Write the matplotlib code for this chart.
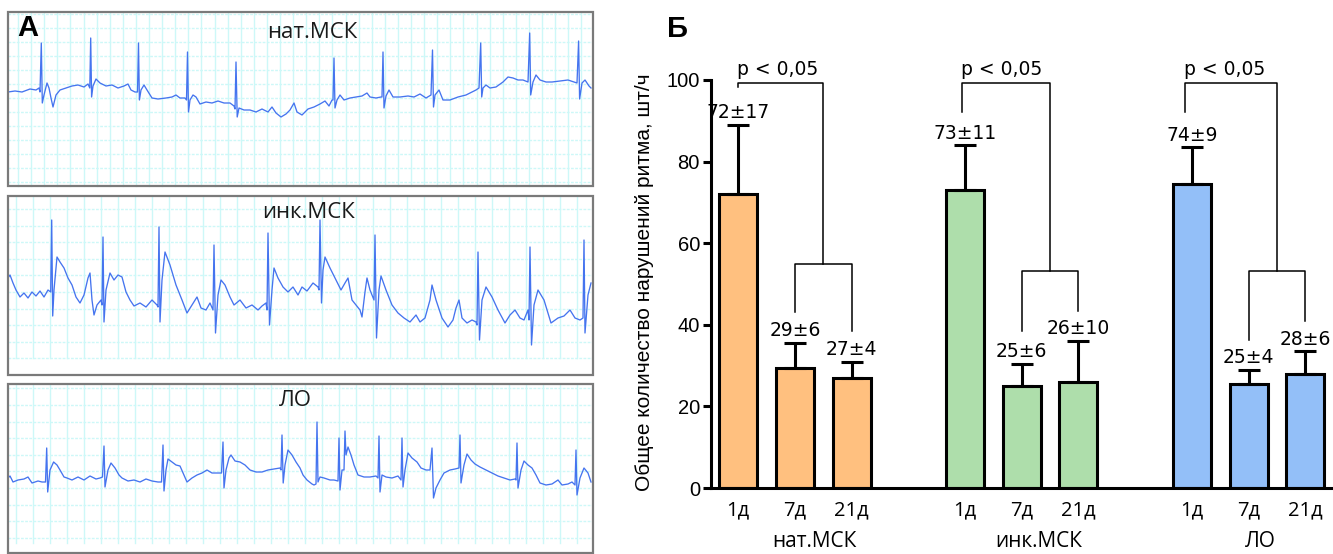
import numpy as np
import matplotlib
matplotlib.use('Agg')
import matplotlib.pyplot as plt
from matplotlib.patches import Rectangle

# ---- панель А: записи ЭКГ (координаты в пикселях рисунка) ----
ecg_titles = ['нат.МСК', 'инк.МСК', 'ЛО']

ecg1_x = [8, 15, 22, 30, 36, 39, 40, 41.3, 42.3, 44, 47, 49, 51, 53, 56, 60, 66, 72, 78, 84, 88, 89.8, 90.7, 91.6,
          93, 96, 100, 106, 112, 118, 124, 128, 131, 135, 137.5, 138.5, 139.4, 141, 144, 147, 152, 158, 166, 172,
          176, 180, 185, 186.5, 187.5, 188.5, 190, 193, 196, 200, 206, 212, 218, 224, 230, 234, 235, 236, 237.2,
          239, 244, 250, 256, 262, 268, 272, 276, 281, 286, 290, 294, 297, 302, 308, 314, 320, 325, 329, 332, 333,
          334, 335, 337, 340, 344, 350, 356, 362, 367, 370, 376, 381, 382, 383, 384, 386, 389, 393, 400, 408, 414,
          420, 426, 431, 432.5, 433.5, 435, 439, 443, 450, 458, 466, 472, 476, 479, 480.7, 481.7, 483, 486, 490,
          496, 503, 508, 513, 518, 523, 528, 529.7, 530.7, 533, 536, 540, 546, 552, 560, 568, 574, 577, 578.6,
          579.6, 582, 585, 589, 591]
ecg1_y = [92, 91, 92, 89, 90, 88, 92, 43, 103, 95, 83, 88, 98, 107, 95, 90, 88, 86, 85, 87, 84, 88, 38, 97,
          86, 79, 83, 86, 85, 88, 86, 84, 90, 92, 92, 43, 100, 90, 85, 90, 98, 99, 98, 97,
          95, 98, 98, 100, 52, 112, 100, 95, 97, 104, 102, 103, 101, 103, 103, 106, 109, 62, 117,
          108, 110, 110, 112, 109, 112, 107, 113, 117, 114, 110, 103, 112, 115, 109, 107, 104, 101, 106, 100, 100,
          58, 108, 100, 95, 100, 98, 97, 96, 93, 97, 98, 97, 97, 52, 108, 96, 90, 97, 97, 96, 97,
          94, 98, 95, 50, 107, 95, 90, 100, 100, 97, 95, 92, 90, 88, 43, 97, 88, 85, 88,
          87, 82, 77, 78, 80, 80, 82, 33, 95, 82, 75, 80, 82, 82, 81, 80, 82, 83, 41,
          99, 83, 80, 86, 88]

ecg2_x = [8, 10, 13, 16, 20, 24, 28, 32, 36, 40, 44, 48, 50.7, 51.7, 52.7, 54, 57, 60, 64, 68, 72, 76, 80, 84,
          88, 90, 92, 94, 97, 101, 102, 103, 104, 106, 110, 114, 118, 122, 126, 130, 134, 140, 146, 152, 157,
          158, 159, 160, 162, 165, 170, 176, 182, 187, 192, 197, 201, 206, 210, 213, 214, 215.5, 218, 221, 225,
          230, 234, 240, 246, 252, 258, 262, 266, 267, 268, 269.5, 272, 274, 278, 283, 288, 293, 298, 302, 307,
          313, 318, 319, 320, 321.5, 323, 325, 330, 336, 341, 345, 348, 352, 356, 360, 362, 365, 367, 370, 374,
          375, 376.5, 379, 381, 386, 392, 398, 404, 410, 416, 420, 425, 430, 432, 436, 442, 448, 453, 456, 459,
          462, 467, 472, 476, 477, 478, 479.5, 482, 486, 492, 498, 505, 510, 515, 520, 524, 528, 529, 530, 531.5,
          534, 538, 544, 551, 558, 564, 570, 575, 580, 583, 584, 585, 588, 591]
ecg2_y = [278, 275, 283, 290, 297, 293, 298, 292, 296, 291, 297, 290, 292, 220, 316, 290, 257, 262, 268, 278,
          285, 297, 303, 295, 278, 273, 300, 315, 305, 300, 305, 237, 322, 290, 273, 280, 275, 277, 292, 300, 306,
          303, 307, 300, 305, 307, 227, 322, 280, 252, 265, 285, 300, 313, 305, 297, 308, 310, 303, 310, 245, 333,
          295, 280, 285, 297, 305, 300, 308, 305, 310, 306, 303, 310, 233, 325, 290, 268, 278, 287, 292, 287, 295,
          287, 291, 283, 287, 290, 220, 303, 270, 257, 268, 280, 290, 283, 278, 300, 305, 310, 317, 292, 278, 290,
          300, 235, 338, 290, 276, 290, 305, 313, 318, 322, 315, 322, 318, 300, 285, 300, 318, 327, 320, 308, 300,
          318, 323, 320, 322, 325, 252, 340, 300, 287, 297, 310, 323, 315, 310, 318, 320, 310, 320, 247, 345, 305,
          290, 300, 323, 318, 316, 310, 318, 320, 318, 240, 333, 295, 283]

ecg3_x = [8, 10, 13, 18, 24, 28, 32, 38, 42, 45.5, 46.7, 47.7, 50, 53.6, 57, 60, 64, 67, 72, 78, 84, 90, 96, 100,
          102.5, 104, 105, 108, 111, 115, 119, 122, 128, 134, 140, 146, 152, 158, 161.5, 163, 164, 166, 168, 172,
          176, 180, 184, 187, 192, 197, 202, 207, 212, 218, 221.5, 223, 224, 226, 229, 231, 235, 240, 245, 250,
          256, 262, 268, 274, 280, 281, 282, 283.2, 285, 288, 292, 296, 300, 303, 307, 312, 314, 316, 317, 318,
          320, 324, 330, 334, 338, 339, 340, 342, 344, 345, 346, 348, 351, 354, 358, 364, 370, 376, 378, 379, 380,
          382, 386, 392, 398, 401, 402, 403, 405, 408, 412, 417, 421, 426, 430, 432, 433.5, 436, 440, 444, 450,
          455, 459, 460, 461, 464, 467, 471, 475, 480, 486, 492, 498, 504, 510, 515, 516, 517, 518, 521, 524, 528,
          532, 536, 540, 546, 552, 558, 562, 568, 572, 575, 576, 577, 580, 584, 588, 591]
ecg3_y = [478, 476, 482, 480, 479, 477, 483, 481, 482, 482, 448, 492, 470, 462, 465, 470, 477, 478, 480, 477,
          480, 476, 479, 478, 477, 446, 487, 470, 463, 468, 475, 478, 481, 480, 482, 479, 481, 482, 482, 445, 491,
          470, 459, 462, 465, 466, 475, 482, 478, 475, 473, 470, 473, 473, 473, 442, 488, 470, 458, 455, 461, 462,
          465, 470, 472, 472, 470, 469, 468, 470, 435, 483, 465, 450, 455, 462, 468, 475, 480, 484, 485, 484, 422,
          482, 477, 478, 480, 480, 481, 438, 490, 470, 470, 431, 455, 447, 455, 465, 475, 477, 477, 476, 478, 436,
          492, 475, 477, 478, 476, 480, 438, 487, 470, 453, 458, 462, 468, 470, 470, 448, 498, 488, 480, 473, 470,
          469, 468, 435, 483, 465, 454, 460, 464, 467, 470, 473, 476, 478, 480, 479, 480, 443, 488, 470, 461, 465,
          468, 475, 483, 485, 484, 480, 485, 484, 482, 485, 450, 495, 478, 468, 473, 482]

# ---- панель Б: данные ----
groups = ['нат.МСК', 'инк.МСК', 'ЛО']
days = ['1д', '7д', '21д'] * 3
means = [72, 29.5, 27, 73, 25, 26, 74.5, 25.5, 28]
sds = [17, 6, 4, 11, 5.5, 10, 9, 3.5, 5.5]
labels = ['72±17', '29±6', '27±4', '73±11', '25±6', '26±10', '74±9', '25±4', '28±6']
colors = ['#FFC07F'] * 3 + ['#AEDEAB'] * 3 + ['#93BFF8'] * 3
xpos = [0, 1, 2, 4, 5, 6, 8, 9, 10]
group_label_x = [1.35, 5.3, 9.2]
# скобки: левая нога (x, низ), верх, под-скобка (y), низ ног 7д и 21д
br_left_x = [0, 3.95, 7.88]
br_left_low = [98.3, 92.2, 92.2]
br_top = 99.3
br_sub_y = [54.9, 53.2, 53.2]
br_sub_low = [(43.1, 38.5), (38.5, 43.4), (36.3, 40.9)]

W, H = 1333, 554
fig = plt.figure(figsize=(W / 100, H / 100), dpi=100)

# ===== панель А =====
axA = fig.add_axes([0, 0, 600 / W, 1])
axA.set_xlim(0, 600)
axA.set_ylim(H, 0)
axA.axis('off')

boxes = [(8, 12, 585, 174), (8, 196, 585, 179), (8, 384, 585, 169)]
grid_area = [(12, 186, 18, 13.1, 14, 14.0), (196, 358, 16, 17.0, 209, 16.6), (384, 543, 16, 17.0, 388.4, 16.6)]
grid_col = '#cdf8f8'
for (bx, by, bw, bh), (gy0, gy1, gx0, gdx, ghy0, gdy) in zip(boxes, grid_area):
    for gx in np.arange(gx0, bx + bw - 2, gdx):
        axA.plot([gx, gx], [gy0, gy1], color=grid_col, lw=1.0, zorder=1)
    for gy in np.arange(ghy0, gy1 + 1, gdy):
        axA.plot([bx, bx + bw], [gy, gy], color=grid_col, lw=1.0, ls=(0, (2, 1)), zorder=1)
    axA.add_patch(Rectangle((bx, by), bw, bh, fill=False, edgecolor='#7a7a7a', lw=1.6, zorder=3))

ecg_col = '#4574ef'
axA.plot(ecg1_x, ecg1_y, color=ecg_col, lw=0.95, zorder=2)
axA.plot(ecg2_x, ecg2_y, color=ecg_col, lw=0.95, zorder=2)
axA.plot(ecg3_x, ecg3_y, color=ecg_col, lw=0.95, zorder=2)

title_pos = [(312, 33), (308, 213), (295, 400)]
for t, (tx, ty) in zip(ecg_titles, title_pos):
    axA.text(tx, ty, t, ha='center', va='center', fontsize=16, family=['Open Sans', 'DejaVu Sans'],
             color='#1a1a1a', zorder=4)
axA.text(17, 28, 'А', ha='left', va='center', fontsize=21, fontweight='bold', family='Liberation Sans', zorder=4)

# ===== панель Б =====
ax = fig.add_axes([711 / W, 66 / H, 622 / W, 408 / H])
ax.set_xlim(-0.48, 10.49)
ax.set_ylim(0, 100)

ax.bar(xpos, means, width=0.67, color=colors, edgecolor='black', linewidth=2.2, zorder=2)
ax.errorbar(xpos, means, yerr=[np.zeros(len(means)), sds], fmt='none', ecolor='black',
            elinewidth=2.2, capsize=8, capthick=2.2, zorder=3)

for x, m, s, lab in zip(xpos, means, sds, labels):
    ax.annotate(lab, (x, m + s), xytext=(0, 2), textcoords='offset points', ha='center', va='bottom',
                fontsize=13.5, family='DejaVu Sans', annotation_clip=False)

blw = 1.1
for g in range(3):
    x1, x7, x21 = xpos[3 * g], xpos[3 * g + 1], xpos[3 * g + 2]
    xm = (x7 + x21) / 2
    ax.plot([br_left_x[g], br_left_x[g], xm, xm], [br_left_low[g], br_top, br_top, br_sub_y[g]],
            color='black', lw=blw, clip_on=False)
    ax.plot([x7, x7, x21, x21], [br_sub_low[g][0], br_sub_y[g], br_sub_y[g], br_sub_low[g][1]],
            color='black', lw=blw, clip_on=False)
    ax.annotate('p < 0,05', (br_left_x[g], br_top), xytext=(-1, 3), textcoords='offset points',
                ha='left', va='bottom', fontsize=13.5, family='DejaVu Sans', annotation_clip=False)

for sp in ['top', 'right']:
    ax.spines[sp].set_visible(False)
for sp in ['left', 'bottom']:
    ax.spines[sp].set_linewidth(2.2)

ax.set_yticks([0, 20, 40, 60, 80, 100])
ax.tick_params(axis='y', length=6, width=2.2, pad=2, labelsize=14.5)
for t in ax.get_yticklabels():
    t.set_family('Liberation Sans')
ax.set_xticks(xpos)
ax.set_xticklabels(days, fontsize=14.5, family=['Open Sans', 'DejaVu Sans'])
ax.tick_params(axis='x', length=0, pad=9)

for gx, g in zip(group_label_x, groups):
    ax.text(gx, -13.2, g, ha='center', va='center', fontsize=15, family=['Open Sans', 'DejaVu Sans'],
            transform=ax.transData)

fig.text(645 / W, 1 - 282 / H, 'Общее количество нарушений ритма, шт/ч', rotation=90, ha='center',
         va='center', fontsize=15, family='Liberation Sans')
fig.text(667 / W, 1 - 29 / H, 'Б', ha='left', va='center', fontsize=21, fontweight='bold',
         family='Liberation Sans')

fig.savefig('out.png', dpi=100)
